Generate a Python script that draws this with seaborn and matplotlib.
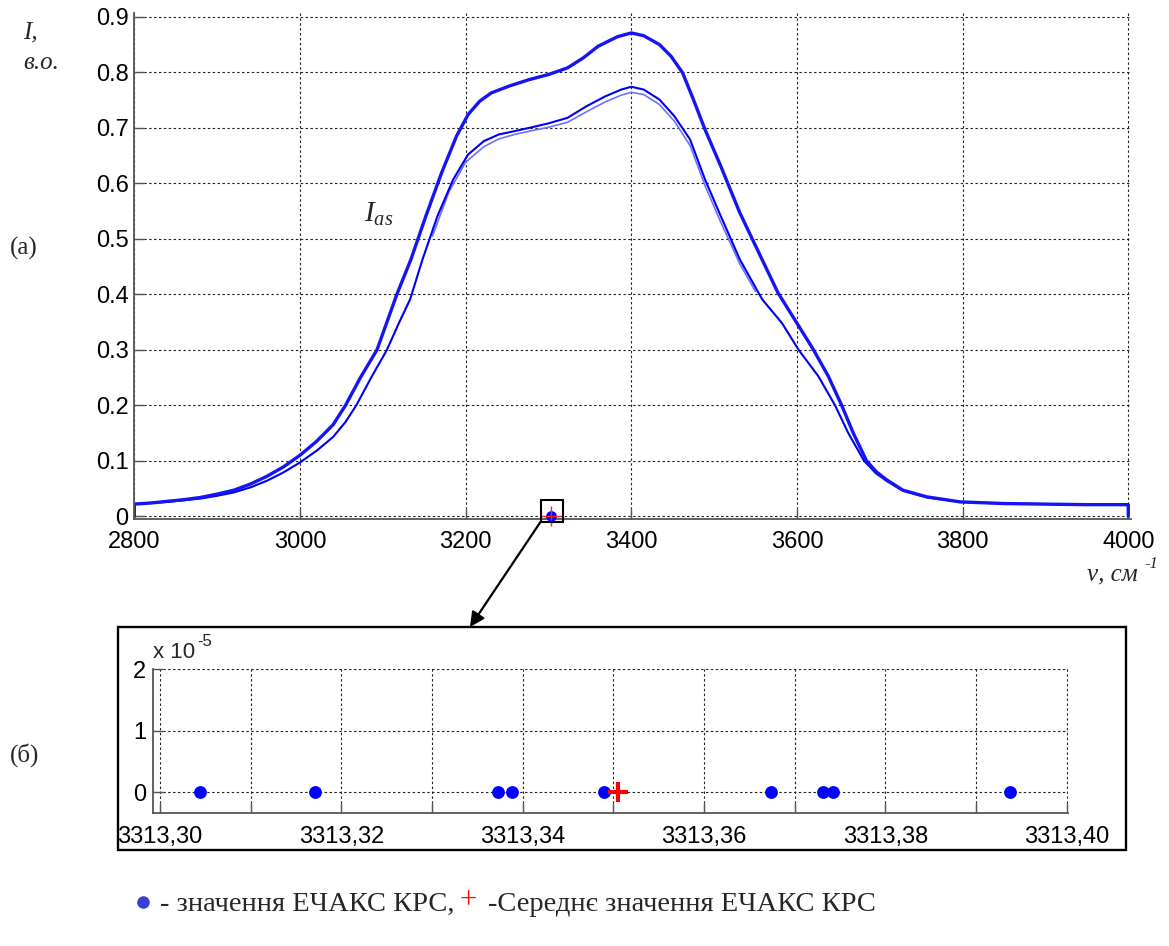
import numpy as np
import pandas as pd
import matplotlib
matplotlib.use("Agg")
import matplotlib.pyplot as plt
from matplotlib.lines import Line2D
from matplotlib.patches import Rectangle
from matplotlib.ticker import FixedLocator, FixedFormatter
import seaborn as sns

# --- spectra: wavenumber (cm^-1) and intensity (a.u.) ---
nu_upper = [2800, 2800, 2820, 2840, 2860, 2880, 2900, 2920, 2940, 2960, 2980, 3000,
            3020, 3040, 3055, 3073, 3093, 3105, 3117, 3134, 3152, 3171, 3189, 3203,
            3217, 3231, 3254, 3277, 3300, 3323, 3342, 3360, 3383, 3400, 3415, 3434,
            3448, 3462, 3475, 3489, 3508, 3531, 3554, 3577, 3600, 3620, 3638, 3654,
            3668, 3684, 3696, 3708, 3728, 3757, 3797, 3850, 3900, 3950, 4000, 4000]
I_upper = [0.0, 0.022, 0.024, 0.027, 0.030, 0.034, 0.040, 0.047, 0.058, 0.072, 0.089, 0.110,
           0.135, 0.165, 0.200, 0.250, 0.300, 0.350, 0.400, 0.463, 0.541, 0.619, 0.685, 0.724,
           0.748, 0.763, 0.776, 0.787, 0.796, 0.808, 0.826, 0.847, 0.864, 0.871, 0.866, 0.850,
           0.829, 0.799, 0.751, 0.697, 0.631, 0.547, 0.475, 0.403, 0.348, 0.300, 0.252, 0.200,
           0.150, 0.100, 0.080, 0.066, 0.047, 0.035, 0.026, 0.023, 0.022, 0.021, 0.021, 0.0]

nu_lower = [2800, 2800, 2840, 2880, 2900, 2920, 2940, 2960, 2980, 3000, 3020, 3040,
            3055, 3068, 3086, 3105, 3120, 3133, 3148, 3166, 3185, 3203, 3222, 3240,
            3259, 3277, 3300, 3323, 3346, 3369, 3388, 3400, 3415, 3434, 3452, 3471,
            3489, 3508, 3531, 3558, 3582, 3602, 3626, 3646, 3662, 3681, 3695, 3708,
            3728, 3757, 3797, 3850, 3900, 3950, 4000, 4000]
I_lower = [0.0, 0.022, 0.026, 0.032, 0.037, 0.043, 0.052, 0.064, 0.079, 0.097, 0.118, 0.143,
           0.170, 0.200, 0.250, 0.300, 0.350, 0.391, 0.463, 0.541, 0.607, 0.652, 0.676, 0.688,
           0.694, 0.700, 0.708, 0.718, 0.739, 0.757, 0.769, 0.774, 0.769, 0.751, 0.721, 0.679,
           0.607, 0.541, 0.463, 0.391, 0.348, 0.300, 0.252, 0.200, 0.150, 0.100, 0.078, 0.064,
           0.046, 0.034, 0.026, 0.023, 0.022, 0.021, 0.021, 0.0]

# second (fainter) trace of the lower group around the maximum
nu_lower2 = [3160, 3180, 3200, 3222, 3240, 3259, 3277, 3300, 3323, 3346, 3369, 3388,
             3400, 3415, 3434, 3452, 3471, 3489, 3508, 3531, 3550]
I_lower2 = [0.505, 0.585, 0.638, 0.666, 0.680, 0.688, 0.694, 0.701, 0.710, 0.729, 0.747, 0.759,
            0.764, 0.760, 0.742, 0.712, 0.668, 0.596, 0.530, 0.455, 0.405]

# --- EChAKS KRS values (cm^-1) ---
ekv_values = [3313.30441, 3313.31706, 3313.33728, 3313.33882, 3313.34893,
              3313.36735, 3313.37313, 3313.37418, 3313.39375]
ekv_mean = float(np.mean(ekv_values))
marker_nu, marker_I = 3303.0, 0.001

x_ticks_top = [2800, 3000, 3200, 3400, 3600, 3800, 4000]
y_ticks_top = [0, 0.1, 0.2, 0.3, 0.4, 0.5, 0.6, 0.7, 0.8, 0.9]
y_labels_top = ["0", "0.1", "0.2", "0.3", "0.4", "0.5", "0.6", "0.7", "0.8", "0.9"]

x_ticks_zoom = [3313.30, 3313.31, 3313.32, 3313.33, 3313.34, 3313.35,
                3313.36, 3313.37, 3313.38, 3313.39, 3313.40]
x_labels_zoom = ["3313,30", "", "3313,32", "", "3313,34", "",
                 "3313,36", "", "3313,38", "", "3313,40"]
y_ticks_zoom = [0, 1e-5, 2e-5]
y_labels_zoom = ["0", "1", "2"]

sns.set_theme(style="white")
plt.rcParams["font.family"] = ["Liberation Sans", "DejaVu Sans"]
plt.rcParams["mathtext.fontset"] = "custom"
plt.rcParams["mathtext.it"] = "Liberation Serif:italic"
plt.rcParams["mathtext.rm"] = "Liberation Serif"

W, H = 1169, 946
fig = plt.figure(figsize=(W / 100, H / 100), dpi=100)


def px_axes(l, t, r, b):
    return fig.add_axes([l / W, 1 - b / H, (r - l) / W, (b - t) / H])


def ftext(x, y, s, **kw):
    kw.setdefault("va", "baseline")
    return fig.text(x / W, 1 - y / H, s, **kw)


serif = ["Liberation Serif", "DejaVu Serif"]
grid_kw = dict(color="#222222", lw=0.8, ls=(0, (2.2, 2.2)))
spine_col = "#555555"


def style_axes(ax):
    for side in ("top", "right"):
        ax.spines[side].set_visible(False)
    for side in ("left", "bottom"):
        ax.spines[side].set_color(spine_col)
        ax.spines[side].set_linewidth(1.3)
    ax.grid(True, **grid_kw)
    ax.set_axisbelow(True)
    ax.tick_params(bottom=True, left=True, direction="in", length=7, width=1,
                   color=spine_col, labelsize=17, labelcolor="black")
    ax.set_xlabel("")
    ax.set_ylabel("")


# ---------------- (a) full spectrum ----------------
ax1 = px_axes(134.3, 13.5, 1131, 518.7)
df_up = pd.DataFrame({"nu": nu_upper, "I": I_upper})
df_lo = pd.DataFrame({"nu": nu_lower, "I": I_lower})
df_lo2 = pd.DataFrame({"nu": nu_lower2, "I": I_lower2})
line_kw = dict(x="nu", y="I", ax=ax1, sort=False, estimator=None)
sns.lineplot(data=df_lo2, color="#7070ff", lw=1.2, **line_kw)
sns.lineplot(data=df_lo, color="#0000f0", lw=1.5, **line_kw)
sns.lineplot(data=df_up, color="#1414f5", lw=2.4, **line_kw)

ax1.set_xlim(2800, 4003.3)
ax1.set_ylim(-0.0043, 0.906)
ax1.xaxis.set_major_locator(FixedLocator(x_ticks_top))
ax1.yaxis.set_major_locator(FixedLocator(y_ticks_top))
ax1.yaxis.set_major_formatter(FixedFormatter(y_labels_top))
style_axes(ax1)
ax1.tick_params(axis="x", pad=9)
ax1.tick_params(axis="y", pad=4)

# highlighted point and its frame
ax1.scatter([marker_nu], [marker_I], s=60, color="#0000ff", zorder=5, clip_on=False,
            linewidths=0)
ax1.plot([marker_nu], [marker_I], marker="+", ms=14, mew=1.0, color="#ff2020",
         zorder=6, clip_on=False)
ax1.add_patch(Rectangle((3290.6, -0.0097), 26.6, 0.039, fill=False, ec="black",
                        lw=1.5, clip_on=False, zorder=7))
ax1.annotate("", xy=(470 / W, 1 - 627 / H), xycoords="figure fraction",
             xytext=(3290.6, -0.0097), textcoords="data",
             arrowprops=dict(arrowstyle="-|>", color="black", lw=1.6,
                             mutation_scale=22, shrinkA=0, shrinkB=0))

ftext(364, 222, r"$I_{as}$", fontsize=21)
ftext(23, 38, "I,", family=serif, style="italic", fontsize=18)
ftext(23, 69, "в.о.", family=serif, style="italic", fontsize=18)
ftext(10, 255, "(a)", family=serif, fontsize=18)
ftext(1087, 580, "ν, см", family=serif, style="italic", fontsize=18)
ftext(1144, 568, "-1", family=serif, style="italic", fontsize=12)

# ---------------- (б) zoomed values ----------------
fig.add_artist(Rectangle((118 / W, 1 - 850 / H), (1126 - 118) / W, (850 - 627) / H,
                         transform=fig.transFigure, fill=False, ec="black", lw=1.7))
ax2 = px_axes(153, 669, 1068, 813)
df_ev = pd.DataFrame({"nu": ekv_values, "dI": [0.0] * len(ekv_values)})
sns.scatterplot(data=df_ev, x="nu", y="dI", ax=ax2, color="#0000ff", s=85,
                linewidth=0, zorder=5, clip_on=False)
ax2.plot([ekv_mean], [0.0], marker="+", ms=15, mew=3.0, color="#ff0000", zorder=6,
         clip_on=False)
ax2.set_xlim(3313.29923, 3313.40015)
ax2.set_ylim(-0.34e-5, 2e-5)
ax2.xaxis.set_major_locator(FixedLocator(x_ticks_zoom))
ax2.xaxis.set_major_formatter(FixedFormatter(x_labels_zoom))
ax2.yaxis.set_major_locator(FixedLocator(y_ticks_zoom))
ax2.yaxis.set_major_formatter(FixedFormatter(y_labels_zoom))
style_axes(ax2)
ax2.tick_params(axis="x", pad=9)
ax2.tick_params(axis="y", pad=5)

ftext(153, 658, "x 10", fontsize=16)
ftext(197, 646, "-5", fontsize=12)
ftext(10, 762, "(б)", family=serif, fontsize=18)

# ---------------- legend line ----------------
fig.add_artist(Line2D([143 / W], [1 - 902 / H], transform=fig.transFigure, marker="o",
                      ms=8, color="#3d3dd6", ls="none"))
ftext(160, 911, "- значення ЕЧАКС КРС,", family=serif, fontsize=20.5)
ftext(459, 908, "+", family=serif, fontsize=22, color="#ff0000")
ftext(488, 911, "-Середнє значення ЕЧАКС КРС", family=serif, fontsize=20.5)

fig.savefig("out.png", dpi=100, facecolor="white")
